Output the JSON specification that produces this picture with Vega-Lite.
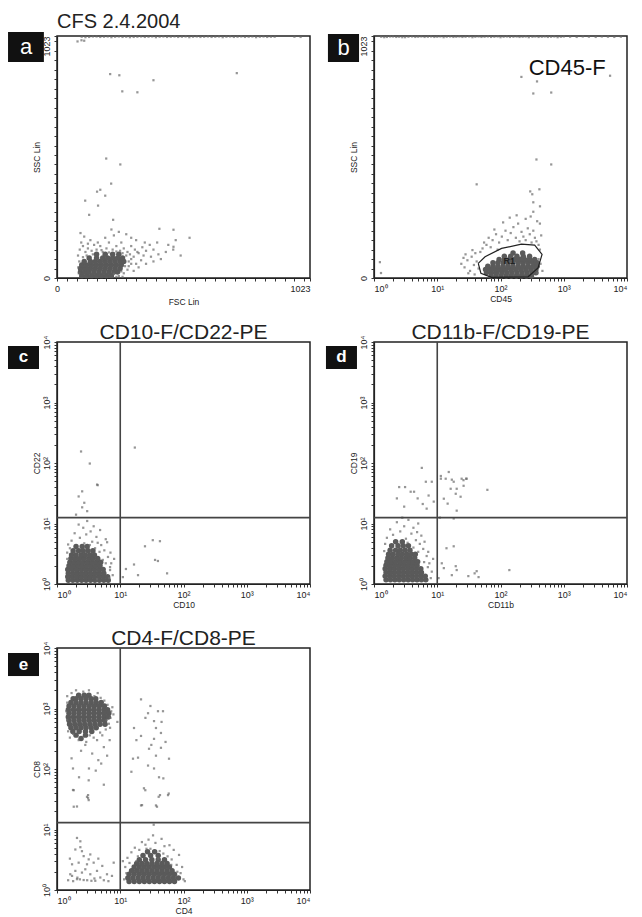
{
"$schema":"https://vega.github.io/schema/vega-lite/v6.json",
"background":"white",
"padding":{"left":7,"top":11,"right":5,"bottom":3},
"config":{
 "view":{"stroke":"#222","strokeWidth":1.5},
 "axis":{"grid":false,"domainColor":"#222","domainWidth":1.2,"tickColor":"#333","tickSize":3,"tickCount":60,"labelColor":"#222","titleColor":"#222","labelFont":"Liberation Sans","titleFont":"Liberation Sans","labelFontSize":9,"titleFontSize":8.5,"titleFontWeight":"normal","labelPadding":3,"titlePadding":1,"labelOverlap":false,"labelBound":false},
 "title":{"font":"Liberation Sans","fontWeight":"normal","color":"#222"}
},
"datasets":{
 "aCore":[{"x":100,"y":10},{"x":120,"y":10},{"x":140,"y":10},{"x":160,"y":10},{"x":180,"y":10},{"x":200,"y":10},{"x":220,"y":10},
  {"x":95,"y":25},{"x":112,"y":25},{"x":130,"y":25},{"x":150,"y":25},{"x":170,"y":25},{"x":190,"y":25},{"x":210,"y":25},{"x":230,"y":25},{"x":245,"y":25},
  {"x":95,"y":40},{"x":115,"y":40},{"x":135,"y":40},{"x":155,"y":40},{"x":175,"y":40},{"x":195,"y":40},{"x":215,"y":40},{"x":235,"y":40},{"x":255,"y":40},
  {"x":100,"y":55},{"x":120,"y":55},{"x":140,"y":55},{"x":160,"y":55},{"x":180,"y":55},{"x":200,"y":55},{"x":220,"y":55},{"x":240,"y":55},{"x":260,"y":55},
  {"x":110,"y":70},{"x":135,"y":70},{"x":155,"y":70},{"x":175,"y":70},{"x":195,"y":70},{"x":215,"y":70},{"x":235,"y":70},{"x":255,"y":70},{"x":270,"y":70},
  {"x":130,"y":85},{"x":160,"y":85},{"x":185,"y":85},{"x":205,"y":85},{"x":225,"y":85},{"x":245,"y":85},{"x":265,"y":85},
  {"x":160,"y":100},{"x":195,"y":100},{"x":225,"y":100},{"x":250,"y":100}],
 "aPts":[{"x":92,"y":120},{"x":105,"y":135},{"x":98,"y":150},{"x":115,"y":110},{"x":125,"y":125},{"x":140,"y":115},{"x":150,"y":140},{"x":135,"y":160},{"x":110,"y":175},{"x":95,"y":190},{"x":160,"y":120},{"x":175,"y":135},{"x":185,"y":110},{"x":200,"y":125},{"x":210,"y":150},{"x":195,"y":170},{"x":225,"y":120},{"x":240,"y":135},{"x":255,"y":115},{"x":270,"y":125},{"x":285,"y":110},{"x":300,"y":135},{"x":315,"y":120},{"x":330,"y":105},{"x":345,"y":130},{"x":360,"y":115},{"x":375,"y":140},{"x":390,"y":120},{"x":405,"y":150},{"x":300,"y":170},{"x":280,"y":185},{"x":250,"y":195},{"x":220,"y":205},{"x":230,"y":180},{"x":320,"y":160},{"x":350,"y":95},{"x":380,"y":90},{"x":410,"y":100},{"x":440,"y":110},{"x":470,"y":120},{"x":500,"y":95},{"x":300,"y":80},{"x":320,"y":60},{"x":340,"y":75},{"x":290,"y":50},{"x":310,"y":30},{"x":330,"y":45},{"x":360,"y":60},{"x":390,"y":70},{"x":420,"y":80},{"x":450,"y":140},{"x":480,"y":160},{"x":414,"y":208},{"x":471,"y":204},{"x":536,"y":170},{"x":471,"y":132},{"x":227,"y":246},{"x":130,"y":267},{"x":166,"y":306},{"x":114,"y":327},{"x":195,"y":348},{"x":162,"y":365},{"x":175,"y":373},{"x":219,"y":399},{"x":256,"y":480},{"x":199,"y":505},{"x":264,"y":789},{"x":325,"y":785},{"x":390,"y":836},{"x":215,"y":862},{"x":252,"y":857},{"x":727,"y":866},{"x":83,"y":1000},{"x":99,"y":1005},{"x":110,"y":1003},{"x":88,"y":20},{"x":86,"y":45},{"x":90,"y":70},{"x":85,"y":95},{"x":270,"y":20},{"x":285,"y":35},{"x":250,"y":8},{"x":265,"y":5},{"x":290,"y":70},{"x":280,"y":95},{"x":295,"y":100},{"x":265,"y":105},{"x":240,"y":112},{"x":210,"y":108},{"x":180,"y":118},{"x":145,"y":100},{"x":120,"y":95},{"x":105,"y":88},{"x":240,"y":5},{"x":230,"y":18},{"x":260,"y":28},{"x":275,"y":50},{"x":300,"y":60},{"x":310,"y":90},{"x":325,"y":110},{"x":355,"y":150},{"x":260,"y":150},{"x":125,"y":145},{"x":165,"y":150},
  {"x":100,"y":1020},{"x":115,"y":1018},{"x":130,"y":1019},{"x":145,"y":1021},{"x":160,"y":1021},{"x":175,"y":1019},{"x":190,"y":1020},{"x":205,"y":1021},{"x":220,"y":1018},{"x":235,"y":1020},{"x":250,"y":1021},{"x":265,"y":1019},{"x":280,"y":1020},{"x":295,"y":1018},{"x":310,"y":1019},{"x":325,"y":1020},{"x":340,"y":1021},{"x":355,"y":1019},{"x":370,"y":1020},{"x":385,"y":1021},{"x":400,"y":1018},{"x":415,"y":1020},{"x":430,"y":1021},{"x":445,"y":1019},{"x":460,"y":1020},{"x":475,"y":1021},{"x":490,"y":1019},{"x":505,"y":1020},{"x":520,"y":1021},{"x":535,"y":1018},{"x":550,"y":1020},{"x":565,"y":1021},{"x":580,"y":1019},{"x":595,"y":1020},{"x":610,"y":1021},{"x":625,"y":1019},{"x":640,"y":1020},{"x":655,"y":1021},{"x":670,"y":1018},{"x":685,"y":1020},{"x":700,"y":1021},{"x":715,"y":1019},{"x":730,"y":1020},{"x":745,"y":1021},{"x":760,"y":1019},{"x":775,"y":1020},{"x":790,"y":1021},{"x":805,"y":1018},{"x":820,"y":1020},{"x":835,"y":1021},{"x":850,"y":1019},{"x":865,"y":1020},{"x":880,"y":1020},{"x":960,"y":1020},{"x":985,"y":1019}],
 "bCore":[{"x":71,"y":8},{"x":85,"y":8},{"x":102,"y":8},{"x":123,"y":8},{"x":148,"y":8},{"x":178,"y":8},{"x":214,"y":8},{"x":257,"y":8},{"x":309,"y":8},
  {"x":60,"y":22},{"x":72,"y":22},{"x":87,"y":22},{"x":105,"y":22},{"x":126,"y":22},{"x":151,"y":22},{"x":182,"y":22},{"x":219,"y":22},{"x":263,"y":22},{"x":316,"y":22},{"x":363,"y":22},
  {"x":58,"y":36},{"x":69,"y":36},{"x":83,"y":36},{"x":100,"y":36},{"x":120,"y":36},{"x":145,"y":36},{"x":174,"y":36},{"x":209,"y":36},{"x":251,"y":36},{"x":302,"y":36},{"x":363,"y":36},
  {"x":63,"y":50},{"x":76,"y":50},{"x":91,"y":50},{"x":110,"y":50},{"x":132,"y":50},{"x":158,"y":50},{"x":191,"y":50},{"x":229,"y":50},{"x":275,"y":50},{"x":331,"y":50},{"x":380,"y":50},
  {"x":76,"y":64},{"x":91,"y":64},{"x":110,"y":64},{"x":132,"y":64},{"x":158,"y":64},{"x":191,"y":64},{"x":229,"y":64},{"x":275,"y":64},{"x":331,"y":64},{"x":380,"y":64},
  {"x":95,"y":78},{"x":115,"y":78},{"x":138,"y":78},{"x":166,"y":78},{"x":200,"y":78},{"x":240,"y":78},{"x":288,"y":78},{"x":347,"y":78},
  {"x":115,"y":92},{"x":145,"y":92},{"x":182,"y":92},{"x":229,"y":92},{"x":288,"y":92},
  {"x":158,"y":106},{"x":224,"y":106}],
 "bPts":[{"x":24,"y":60},{"x":27,"y":45},{"x":30,"y":75},{"x":33,"y":30},{"x":35,"y":90},{"x":38,"y":55},{"x":40,"y":105},{"x":42,"y":70},{"x":45,"y":40},{"x":28,"y":100},{"x":36,"y":118},{"x":31,"y":20},{"x":26,"y":85},{"x":48,"y":110},{"x":52,"y":125},{"x":39,"y":15},
  {"x":55,"y":150},{"x":65,"y":170},{"x":75,"y":160},{"x":85,"y":185},{"x":95,"y":150},{"x":105,"y":175},{"x":120,"y":200},{"x":130,"y":160},{"x":145,"y":190},{"x":160,"y":215},{"x":175,"y":170},{"x":190,"y":230},{"x":200,"y":155},{"x":215,"y":195},{"x":230,"y":175},{"x":250,"y":160},{"x":270,"y":210},{"x":290,"y":185},{"x":310,"y":150},{"x":330,"y":200},{"x":350,"y":170},{"x":370,"y":155},{"x":400,"y":140},{"x":420,"y":120},{"x":440,"y":180},{"x":380,"y":240},{"x":300,"y":260},{"x":250,"y":250},{"x":330,"y":280},{"x":420,"y":230},{"x":80,"y":205},{"x":110,"y":235},{"x":140,"y":255},{"x":180,"y":265},{"x":70,"y":130},{"x":90,"y":120},{"x":60,"y":140},{"x":400,"y":80},{"x":430,"y":60},{"x":460,"y":30},{"x":380,"y":20},
  {"x":42,"y":396},{"x":295,"y":366},{"x":318,"y":354},{"x":412,"y":375},{"x":330,"y":320},{"x":421,"y":303},{"x":370,"y":501},{"x":634,"y":480},{"x":214,"y":850},{"x":378,"y":831},{"x":330,"y":780},{"x":634,"y":784},{"x":5400,"y":855},{"x":1.24,"y":67},{"x":1.29,"y":21},
  {"x":1.3,"y":1020},{"x":1.45,"y":1018},{"x":1.6,"y":1019},{"x":1.8,"y":1021},{"x":2,"y":1021},{"x":2.25,"y":1019},{"x":2.5,"y":1020},{"x":2.8,"y":1018},{"x":3.1,"y":1018},{"x":3.5,"y":1020},{"x":4,"y":1021},{"x":4.5,"y":1019},{"x":5,"y":1020},{"x":5.6,"y":1021},{"x":6.3,"y":1019},{"x":7.1,"y":1020},{"x":8,"y":1021},{"x":9,"y":1019},{"x":10,"y":1020},{"x":11.2,"y":1021},{"x":12.6,"y":1018},{"x":14.1,"y":1020},{"x":16,"y":1021},{"x":18,"y":1019},{"x":20,"y":1020},{"x":22.4,"y":1021},{"x":25,"y":1019},{"x":28,"y":1020},{"x":32,"y":1021},{"x":36,"y":1018},{"x":40,"y":1020},{"x":45,"y":1021},{"x":50,"y":1019},{"x":56,"y":1020},{"x":63,"y":1021},{"x":71,"y":1019},{"x":80,"y":1020},{"x":90,"y":1021},{"x":100,"y":1018},{"x":112,"y":1020},{"x":126,"y":1021},{"x":141,"y":1019},{"x":160,"y":1020},{"x":180,"y":1021},{"x":200,"y":1019},{"x":224,"y":1020},{"x":250,"y":1021},{"x":280,"y":1018},{"x":320,"y":1020},{"x":355,"y":1021},{"x":400,"y":1019},{"x":450,"y":1020},{"x":500,"y":1021},{"x":560,"y":1019},{"x":630,"y":1020},{"x":710,"y":1021},{"x":800,"y":1018},{"x":900,"y":1020},{"x":1000,"y":1021},{"x":1260,"y":1020},{"x":1600,"y":1019},{"x":2000,"y":1021},{"x":2500,"y":1020},{"x":3200,"y":1019},{"x":4000,"y":1021},{"x":5000,"y":1020},{"x":6300,"y":1019},{"x":8000,"y":1020}],
 "bGate":[{"o":1,"x":44.5,"y":62},{"o":2,"x":49,"y":20},{"o":3,"x":72,"y":3},{"o":4,"x":273,"y":5},{"o":5,"x":392,"y":43},{"o":6,"x":454,"y":100},{"o":7,"x":347,"y":139},{"o":8,"x":214,"y":143},{"o":9,"x":104,"y":125},{"o":10,"x":57,"y":90},{"o":11,"x":44.5,"y":62}],
 "cCore":[{"x":1.51,"y":1.15},{"x":1.78,"y":1.15},{"x":2.09,"y":1.15},{"x":2.45,"y":1.15},{"x":2.88,"y":1.15},{"x":3.39,"y":1.15},{"x":3.98,"y":1.15},{"x":4.68,"y":1.15},{"x":5.5,"y":1.15},{"x":6.46,"y":1.15},
  {"x":1.48,"y":1.32},{"x":1.74,"y":1.32},{"x":2.04,"y":1.32},{"x":2.4,"y":1.32},{"x":2.82,"y":1.32},{"x":3.31,"y":1.32},{"x":3.89,"y":1.32},{"x":4.57,"y":1.32},{"x":5.37,"y":1.32},{"x":6.31,"y":1.32},
  {"x":1.51,"y":1.51},{"x":1.78,"y":1.51},{"x":2.09,"y":1.51},{"x":2.45,"y":1.51},{"x":2.88,"y":1.51},{"x":3.39,"y":1.51},{"x":3.98,"y":1.51},{"x":4.68,"y":1.51},{"x":5.5,"y":1.51},
  {"x":1.48,"y":1.74},{"x":1.74,"y":1.74},{"x":2.04,"y":1.74},{"x":2.4,"y":1.74},{"x":2.82,"y":1.74},{"x":3.31,"y":1.74},{"x":3.89,"y":1.74},{"x":4.57,"y":1.74},{"x":5.37,"y":1.74},
  {"x":1.55,"y":2.0},{"x":1.82,"y":2.0},{"x":2.14,"y":2.0},{"x":2.51,"y":2.0},{"x":2.95,"y":2.0},{"x":3.47,"y":2.0},{"x":4.07,"y":2.0},{"x":4.79,"y":2.0},
  {"x":1.6,"y":2.29},{"x":1.88,"y":2.29},{"x":2.2,"y":2.29},{"x":2.6,"y":2.29},{"x":3.05,"y":2.29},{"x":3.6,"y":2.29},{"x":4.2,"y":2.29},{"x":4.9,"y":2.29},
  {"x":1.66,"y":2.63},{"x":1.95,"y":2.63},{"x":2.3,"y":2.63},{"x":2.7,"y":2.63},{"x":3.2,"y":2.63},{"x":3.7,"y":2.63},{"x":4.4,"y":2.63},
  {"x":1.7,"y":3.02},{"x":2.0,"y":3.02},{"x":2.4,"y":3.02},{"x":2.8,"y":3.02},{"x":3.3,"y":3.02},{"x":3.9,"y":3.02},
  {"x":1.8,"y":3.55},{"x":2.2,"y":3.55},{"x":2.6,"y":3.55},{"x":3.1,"y":3.55},{"x":3.7,"y":3.55},
  {"x":2.0,"y":4.17},{"x":2.5,"y":4.17},{"x":3.0,"y":4.17}],
 "cPts":[{"x":1.5,"y":4.5},{"x":1.7,"y":5.2},{"x":2.3,"y":5.8},{"x":2.9,"y":6.6},{"x":3.6,"y":5.0},{"x":4.2,"y":6.0},{"x":5.0,"y":4.4},{"x":5.6,"y":3.6},{"x":6.4,"y":2.8},{"x":7.2,"y":2.2},{"x":7.6,"y":1.4},{"x":6.9,"y":1.7},{"x":3.4,"y":7.4},{"x":2.6,"y":8.5},{"x":4.8,"y":7.8},{"x":1.9,"y":6.9},{"x":5.9,"y":5.5},{"x":2.2,"y":9.6},{"x":3.8,"y":9.0},{"x":1.6,"y":3.9},{"x":7.0,"y":3.3},{"x":6.2,"y":4.9},{"x":4.4,"y":4.8},{"x":2.7,"y":4.7},{"x":5.3,"y":2.5},{"x":6.7,"y":1.25},{"x":3.0,"y":11},{"x":4.3,"y":1.2},{"x":8.0,"y":2.6},{"x":1.45,"y":2.6},{"x":1.45,"y":3.3},{"x":4.0,"y":3.9},{"x":4.7,"y":3.4},{"x":5.9,"y":2.2},{"x":6.9,"y":1.9},{"x":3.3,"y":4.4},
  {"x":4.3,"y":44},{"x":2.5,"y":34},{"x":2.2,"y":28},{"x":2.7,"y":22},{"x":2.5,"y":18.5},{"x":2.4,"y":155},{"x":3.3,"y":98},{"x":4.4,"y":43},{"x":17,"y":180},{"x":2.0,"y":14},{"x":3.0,"y":16},
  {"x":24.6,"y":4.2},{"x":32.7,"y":5.3},{"x":42.4,"y":5.1},{"x":35.5,"y":2.5},{"x":39.4,"y":2.4},{"x":16.5,"y":2.1},{"x":12.3,"y":1.77},{"x":19.1,"y":1.4},{"x":55,"y":1.5},{"x":11,"y":1.3}],
 "cQuad":[{"qx":10,"qy":12.5}],
 "dCore":[{"x":1.55,"y":1.17},{"x":1.82,"y":1.17},{"x":2.14,"y":1.17},{"x":2.51,"y":1.17},{"x":2.95,"y":1.17},{"x":3.47,"y":1.17},{"x":4.07,"y":1.17},{"x":4.79,"y":1.17},{"x":5.62,"y":1.17},{"x":6.6,"y":1.17},
  {"x":1.5,"y":1.35},{"x":1.77,"y":1.35},{"x":2.08,"y":1.35},{"x":2.45,"y":1.35},{"x":2.88,"y":1.35},{"x":3.39,"y":1.35},{"x":3.98,"y":1.35},{"x":4.68,"y":1.35},{"x":5.5,"y":1.35},{"x":6.46,"y":1.35},
  {"x":1.55,"y":1.55},{"x":1.82,"y":1.55},{"x":2.14,"y":1.55},{"x":2.51,"y":1.55},{"x":2.95,"y":1.55},{"x":3.47,"y":1.55},{"x":4.07,"y":1.55},{"x":4.79,"y":1.55},{"x":5.62,"y":1.55},
  {"x":1.5,"y":1.78},{"x":1.77,"y":1.78},{"x":2.08,"y":1.78},{"x":2.45,"y":1.78},{"x":2.88,"y":1.78},{"x":3.39,"y":1.78},{"x":3.98,"y":1.78},{"x":4.68,"y":1.78},{"x":5.5,"y":1.78},
  {"x":1.55,"y":2.04},{"x":1.82,"y":2.04},{"x":2.14,"y":2.04},{"x":2.51,"y":2.04},{"x":2.95,"y":2.04},{"x":3.47,"y":2.04},{"x":4.07,"y":2.04},{"x":4.79,"y":2.04},
  {"x":1.6,"y":2.34},{"x":1.88,"y":2.34},{"x":2.2,"y":2.34},{"x":2.6,"y":2.34},{"x":3.05,"y":2.34},{"x":3.6,"y":2.34},{"x":4.2,"y":2.34},{"x":4.9,"y":2.34},
  {"x":1.66,"y":2.69},{"x":1.95,"y":2.69},{"x":2.3,"y":2.69},{"x":2.7,"y":2.69},{"x":3.2,"y":2.69},{"x":3.7,"y":2.69},{"x":4.4,"y":2.69},
  {"x":1.7,"y":3.09},{"x":2.0,"y":3.09},{"x":2.4,"y":3.09},{"x":2.8,"y":3.09},{"x":3.3,"y":3.09},{"x":3.9,"y":3.09},{"x":4.5,"y":3.09},
  {"x":1.8,"y":3.63},{"x":2.2,"y":3.63},{"x":2.6,"y":3.63},{"x":3.1,"y":3.63},{"x":3.7,"y":3.63},
  {"x":1.9,"y":4.27},{"x":2.4,"y":4.27},{"x":2.9,"y":4.27},{"x":3.5,"y":4.27},
  {"x":2.2,"y":5.0},{"x":2.8,"y":5.0}],
 "dPts":[{"x":1.6,"y":5.8},{"x":2.0,"y":6.5},{"x":2.6,"y":7.4},{"x":3.2,"y":5.6},{"x":3.9,"y":6.8},{"x":4.6,"y":5.3},{"x":5.3,"y":4.6},{"x":6.0,"y":3.8},{"x":6.8,"y":2.9},{"x":7.5,"y":2.2},{"x":8.2,"y":1.6},{"x":7.9,"y":1.25},{"x":3.0,"y":9.0},{"x":2.3,"y":10.5},{"x":4.2,"y":8.5},{"x":1.8,"y":8.0},{"x":5.6,"y":6.3},{"x":3.5,"y":11.5},{"x":2.8,"y":12.5},{"x":6.3,"y":5.0},{"x":4.8,"y":7.2},{"x":7.2,"y":3.4},{"x":1.5,"y":4.6},{"x":8.6,"y":2.6},{"x":5.0,"y":10},{"x":1.45,"y":3.5},{"x":4.2,"y":4.0},{"x":5.0,"y":3.4},{"x":6.2,"y":2.3},{"x":7.1,"y":1.9},{"x":3.4,"y":4.8},
  {"x":5.7,"y":83},{"x":2.5,"y":40},{"x":3.1,"y":40},{"x":2.3,"y":26},{"x":3.0,"y":19},{"x":3.8,"y":33.5},{"x":4.9,"y":26},{"x":5.9,"y":21},{"x":6.8,"y":17.6},{"x":6.6,"y":49},{"x":8.2,"y":49},{"x":8.8,"y":23},{"x":7.3,"y":29},{"x":4.3,"y":33.5},
  {"x":11.4,"y":61},{"x":13.6,"y":55},{"x":15.2,"y":71},{"x":18.2,"y":49},{"x":24.3,"y":55},{"x":29.2,"y":55},{"x":20.3,"y":37.5},{"x":16.3,"y":37.5},{"x":19.6,"y":31},{"x":12.7,"y":25.7},{"x":23.4,"y":27.7},{"x":20.3,"y":16.3},{"x":14.6,"y":21.3},{"x":26.1,"y":42},{"x":62,"y":36},{"x":26,"y":52},{"x":28.6,"y":55},{"x":11.4,"y":55},{"x":17,"y":53},
  {"x":14,"y":3.9},{"x":18.2,"y":4.2},{"x":11.8,"y":2.2},{"x":12.7,"y":1.83},{"x":19.6,"y":1.97},{"x":17,"y":1.4},{"x":31,"y":1.35},{"x":42,"y":1.63},{"x":10.5,"y":1.25},{"x":39,"y":1.5},{"x":138,"y":1.7},{"x":20.3,"y":1.7},{"x":45,"y":1.3},{"x":18.2,"y":12.1},{"x":11,"y":12.5}],
 "dQuad":[{"qx":10,"qy":12.5}],
 "eCore":[{"x":2.2,"y":1660},{"x":2.7,"y":1660},{"x":3.2,"y":1660},
  {"x":1.8,"y":1445},{"x":2.0,"y":1445},{"x":2.4,"y":1445},{"x":2.88,"y":1445},{"x":3.47,"y":1445},{"x":4.1,"y":1445},
  {"x":1.66,"y":1259},{"x":2.0,"y":1259},{"x":2.4,"y":1259},{"x":2.88,"y":1259},{"x":3.47,"y":1259},{"x":4.17,"y":1259},{"x":5.0,"y":1259},
  {"x":1.55,"y":1096},{"x":1.86,"y":1096},{"x":2.24,"y":1096},{"x":2.69,"y":1096},{"x":3.24,"y":1096},{"x":3.89,"y":1096},{"x":4.68,"y":1096},{"x":5.62,"y":1096},
  {"x":1.51,"y":955},{"x":1.82,"y":955},{"x":2.19,"y":955},{"x":2.63,"y":955},{"x":3.16,"y":955},{"x":3.8,"y":955},{"x":4.57,"y":955},{"x":5.5,"y":955},{"x":6.3,"y":955},
  {"x":1.55,"y":832},{"x":1.86,"y":832},{"x":2.24,"y":832},{"x":2.69,"y":832},{"x":3.24,"y":832},{"x":3.89,"y":832},{"x":4.68,"y":832},{"x":5.62,"y":832},{"x":6.6,"y":832},
  {"x":1.51,"y":724},{"x":1.82,"y":724},{"x":2.19,"y":724},{"x":2.63,"y":724},{"x":3.16,"y":724},{"x":3.8,"y":724},{"x":4.57,"y":724},{"x":5.5,"y":724},{"x":6.46,"y":724},
  {"x":1.55,"y":631},{"x":1.86,"y":631},{"x":2.24,"y":631},{"x":2.69,"y":631},{"x":3.24,"y":631},{"x":3.89,"y":631},{"x":4.68,"y":631},{"x":5.62,"y":631},
  {"x":1.58,"y":550},{"x":1.91,"y":550},{"x":2.29,"y":550},{"x":2.75,"y":550},{"x":3.31,"y":550},{"x":3.98,"y":550},{"x":4.79,"y":550},{"x":5.75,"y":550},
  {"x":1.66,"y":479},{"x":2.0,"y":479},{"x":2.4,"y":479},{"x":2.88,"y":479},{"x":3.47,"y":479},{"x":4.17,"y":479},
  {"x":1.78,"y":417},{"x":2.24,"y":417},{"x":2.82,"y":417},{"x":3.55,"y":417},
  {"x":2.0,"y":363},{"x":2.82,"y":363},{"x":2.4,"y":320},
  {"x":13.8,"y":1.38},{"x":16.6,"y":1.38},{"x":20,"y":1.38},{"x":24,"y":1.38},{"x":28.8,"y":1.38},{"x":34.7,"y":1.38},{"x":41.7,"y":1.38},{"x":50,"y":1.38},{"x":60,"y":1.38},{"x":72,"y":1.38},
  {"x":13.2,"y":1.58},{"x":15.8,"y":1.58},{"x":19.1,"y":1.58},{"x":22.9,"y":1.58},{"x":27.5,"y":1.58},{"x":33.1,"y":1.58},{"x":39.8,"y":1.58},{"x":47.9,"y":1.58},{"x":57.5,"y":1.58},{"x":69,"y":1.58},{"x":83,"y":1.58},
  {"x":13.8,"y":1.82},{"x":16.6,"y":1.82},{"x":20,"y":1.82},{"x":24,"y":1.82},{"x":28.8,"y":1.82},{"x":34.7,"y":1.82},{"x":41.7,"y":1.82},{"x":50,"y":1.82},{"x":60,"y":1.82},{"x":72,"y":1.82},
  {"x":15.1,"y":2.09},{"x":18.2,"y":2.09},{"x":21.9,"y":2.09},{"x":26.3,"y":2.09},{"x":31.6,"y":2.09},{"x":38,"y":2.09},{"x":45.7,"y":2.09},{"x":55,"y":2.09},{"x":66,"y":2.09},
  {"x":16.6,"y":2.4},{"x":20,"y":2.4},{"x":24,"y":2.4},{"x":28.8,"y":2.4},{"x":34.7,"y":2.4},{"x":41.7,"y":2.4},{"x":50,"y":2.4},{"x":60,"y":2.4},
  {"x":18.2,"y":2.75},{"x":21.9,"y":2.75},{"x":26.3,"y":2.75},{"x":31.6,"y":2.75},{"x":38,"y":2.75},{"x":45.7,"y":2.75},{"x":55,"y":2.75},
  {"x":20,"y":3.16},{"x":25.1,"y":3.16},{"x":31.6,"y":3.16},{"x":39.8,"y":3.16},{"x":50,"y":3.16},
  {"x":22.9,"y":3.72},{"x":30.2,"y":3.72},{"x":39.8,"y":3.72},{"x":27,"y":4.3},{"x":35,"y":4.3}],
 "ePts":[{"x":1.45,"y":1600},{"x":2.6,"y":1900},{"x":3.9,"y":1600},{"x":5.6,"y":1350},{"x":6.3,"y":1150},{"x":7.2,"y":900},{"x":7.0,"y":700},{"x":6.6,"y":560},{"x":5.9,"y":450},{"x":4.8,"y":400},{"x":3.8,"y":330},{"x":1.5,"y":420},{"x":1.45,"y":650},{"x":1.4,"y":900},{"x":1.45,"y":1250},{"x":2.2,"y":300},{"x":2.9,"y":280},{"x":4.4,"y":1800},{"x":3.2,"y":2000},{"x":5.2,"y":360},{"x":6.9,"y":480},{"x":1.6,"y":330},{"x":7.8,"y":800},{"x":2.0,"y":2000},{"x":1.7,"y":1800},{"x":4.9,"y":1500},{"x":6.1,"y":640},{"x":4.3,"y":300},{"x":3.3,"y":360},{"x":1.8,"y":380},{"x":7.5,"y":1050},
  {"x":1.79,"y":102},{"x":2.23,"y":73},{"x":3.2,"y":102},{"x":4.1,"y":94},{"x":1.79,"y":45},{"x":2.07,"y":24},{"x":3.1,"y":33},{"x":3.1,"y":37},{"x":5.0,"y":123},{"x":6.2,"y":166},{"x":2.4,"y":200},{"x":3.6,"y":180},{"x":1.7,"y":150},{"x":5.5,"y":230},{"x":4.5,"y":140},{"x":2.8,"y":250},{"x":1.84,"y":44.6},{"x":3.17,"y":65},{"x":2.98,"y":34.7},{"x":3.17,"y":30.6},{"x":1.84,"y":23.8},{"x":6.8,"y":300},{"x":5.5,"y":55},{"x":9,"y":600},
  {"x":21.3,"y":1416},{"x":27.5,"y":836},{"x":39.5,"y":902},{"x":47.4,"y":902},{"x":34.2,"y":619},{"x":36.7,"y":476},{"x":16.5,"y":476},{"x":44,"y":394},{"x":21.3,"y":352},{"x":34.2,"y":315},{"x":28.5,"y":216},{"x":44,"y":224},{"x":15.9,"y":148},{"x":19.1,"y":154},{"x":36.7,"y":166},{"x":59,"y":148},{"x":27.5,"y":114},{"x":34.2,"y":102},{"x":23.7,"y":48},{"x":42.5,"y":37},{"x":56.9,"y":37},{"x":21.3,"y":25},{"x":36.7,"y":25},{"x":41,"y":73},{"x":24.9,"y":44.6},{"x":40.5,"y":34.7},{"x":58.4,"y":39.3},{"x":22.1,"y":25.3},{"x":38.1,"y":23.8},{"x":33.8,"y":12},{"x":30,"y":1100},{"x":25,"y":700},{"x":45,"y":600},{"x":18,"y":300},{"x":52,"y":280},{"x":31,"y":250},{"x":15,"y":90},{"x":48,"y":70},
  {"x":2.07,"y":7.25},{"x":2.34,"y":6.38},{"x":1.95,"y":4.67},{"x":2.64,"y":3.63},{"x":3.36,"y":3.87},{"x":1.73,"y":2.66},{"x":2.2,"y":2.83},{"x":2.98,"y":2.66},{"x":3.8,"y":2.83},{"x":1.95,"y":2.07},{"x":2.48,"y":1.94},{"x":3.36,"y":1.82},{"x":4.29,"y":2.07},{"x":2.07,"y":1.51},{"x":2.64,"y":1.46},{"x":3.5,"y":1.42},{"x":4.84,"y":1.61},{"x":6.17,"y":1.82},{"x":1.73,"y":1.71},{"x":2.8,"y":2.2},{"x":1.62,"y":1.82},{"x":4.03,"y":1.42},{"x":7.4,"y":1.71},{"x":7.88,"y":2.83},{"x":3.17,"y":3.21},{"x":2.48,"y":4.38},{"x":2.34,"y":5.1},{"x":1.5,"y":1.45},{"x":1.8,"y":1.4},{"x":2.3,"y":1.5},{"x":3.0,"y":1.45},{"x":3.9,"y":1.55},{"x":5.5,"y":1.45},{"x":6.5,"y":1.4},{"x":5.2,"y":2.5},{"x":4.5,"y":3.3},{"x":1.6,"y":3.3},{"x":2.1,"y":1.6},
  {"x":11.5,"y":1.5},{"x":12,"y":2.4},{"x":13,"y":3.4},{"x":15,"y":4.2},{"x":17,"y":5.0},{"x":20,"y":4.6},{"x":25,"y":5.6},{"x":30,"y":4.8},{"x":36,"y":6.0},{"x":42,"y":4.4},{"x":50,"y":5.3},{"x":56,"y":3.6},{"x":65,"y":3.2},{"x":78,"y":2.6},{"x":90,"y":1.9},{"x":100,"y":1.5},{"x":95,"y":2.4},{"x":85,"y":3.8},{"x":70,"y":4.6},{"x":28,"y":6.8},{"x":22,"y":6.2},{"x":45,"y":7.0},{"x":60,"y":5.5},{"x":12.5,"y":1.9},{"x":33,"y":8.0},{"x":11,"y":3.0},{"x":105,"y":1.4},{"x":40,"y":3.3},{"x":18,"y":3.0},{"x":14,"y":2.8},{"x":48,"y":4.0},{"x":64,"y":2.6},{"x":80,"y":2.0},{"x":19,"y":3.6},{"x":26,"y":4.8}],
 "eQuad":[{"qx":10,"qy":13}]
},
"concat":[
 {"width":253,"height":242,"data":{"values":[{"p":"a"}]},
  "title":{"text":"CFS 2.4.2004","anchor":"start","frame":"group","fontSize":20,"offset":0},
  "layer":[
   {"data":{"name":"aCore"},"mark":{"type":"circle","size":30,"color":"#5a5a5a","opacity":1},
    "encoding":{"x":{"field":"x","type":"quantitative","scale":{"domain":[0,1023],"nice":false,"zero":false},"axis":{"title":"FSC Lin","tickCount":60,"values":[0,40,80,120,160,200,240,280,320,360,400,440,480,520,560,600,640,680,720,760,800,840,880,920,960,1000,1023],"labelExpr":"datum.value==0?'0':datum.value>1010?'1023':''","labelAlign":{"condition":{"test":"datum.value > 1010","value":"right"},"value":"center"},"titlePadding":4}},
     "y":{"field":"y","type":"quantitative","scale":{"domain":[0,1023],"nice":false,"zero":false},"axis":{"title":"SSC Lin","tickCount":60,"values":[0,40,80,120,160,200,240,280,320,360,400,440,480,520,560,600,640,680,720,760,800,840,880,920,960,1000,1023],"labelExpr":"datum.value==0?'0':datum.value>1010?'1023':''","labelAngle":270,"labelAlign":{"condition":{"test":"datum.value > 1010","value":"right"},"value":"center"}}}}},
   {"data":{"name":"aPts"},"mark":{"type":"square","size":5,"color":"#6a6a6a"},"encoding":{"x":{"field":"x","type":"quantitative"},"y":{"field":"y","type":"quantitative"}}},
   {"mark":{"type":"rect","color":"#111"},"encoding":{"x":{"datum":-198},"x2":{"datum":-53},"y":{"datum":1040},"y2":{"datum":913}}},
   {"mark":{"type":"text","color":"white","fontSize":22,"font":"Liberation Sans","baseline":"middle"},"encoding":{"x":{"datum":-125},"y":{"datum":978},"text":{"field":"p"}}}
  ]},
 {"width":253,"height":242,"data":{"values":[{"p":"b"}]},
  "layer":[
   {"data":{"name":"bCore"},"mark":{"type":"circle","size":30,"color":"#5a5a5a","opacity":1},
    "encoding":{"x":{"field":"x","type":"quantitative","scale":{"type":"log","domain":[1,10000],"nice":false},"axis":{"title":"CD45","tickCount":60,"values":[1,2,3,4,5,6,7,8,9,10,20,30,40,50,60,70,80,90,100,200,300,400,500,600,700,800,900,1000,2000,3000,4000,5000,6000,7000,8000,9000,10000],"labelExpr":"datum.value==1?'10⁰':datum.value==10?'10¹':datum.value==100?'10²':datum.value==1000?'10³':datum.value==10000?'10⁴':''"}},
     "y":{"field":"y","type":"quantitative","scale":{"domain":[0,1023],"nice":false,"zero":false},"axis":{"title":"SSC Lin","tickCount":60,"values":[0,40,80,120,160,200,240,280,320,360,400,440,480,520,560,600,640,680,720,760,800,840,880,920,960,1000,1023],"labelExpr":"datum.value==0?'0':datum.value>1010?'1023':''","labelAngle":270,"labelAlign":{"condition":{"test":"datum.value > 1010","value":"right"},"value":"center"}}}}},
   {"data":{"name":"bPts"},"mark":{"type":"square","size":5,"color":"#6a6a6a"},"encoding":{"x":{"field":"x","type":"quantitative"},"y":{"field":"y","type":"quantitative"}}},
   {"data":{"name":"bGate"},"mark":{"type":"line","color":"#222","strokeWidth":1.2},"encoding":{"x":{"field":"x","type":"quantitative"},"y":{"field":"y","type":"quantitative"},"order":{"field":"o","type":"quantitative"}}},
   {"mark":{"type":"text","color":"#222","fontSize":9,"fontWeight":"bold","font":"Liberation Sans","baseline":"middle"},"encoding":{"x":{"datum":138},"y":{"datum":72},"text":{"value":"R1"}}},
   {"mark":{"type":"text","color":"#111","fontSize":22,"font":"Liberation Sans","baseline":"middle"},"encoding":{"x":{"datum":1135},"y":{"datum":888},"text":{"value":"CD45-F"}}},
   {"mark":{"type":"rect","color":"#111"},"encoding":{"x":{"datum":0.187},"x2":{"datum":0.58},"y":{"datum":1031},"y2":{"datum":913}}},
   {"mark":{"type":"text","color":"white","fontSize":22,"font":"Liberation Sans","baseline":"middle"},"encoding":{"x":{"datum":0.33},"y":{"datum":972},"text":{"field":"p"}}}
  ]},
 {"width":253,"height":242,"data":{"values":[{"p":"c"}]},
  "title":{"text":"CD10-F/CD22-PE","anchor":"middle","frame":"group","fontSize":21,"offset":-8},
  "layer":[
   {"data":{"name":"cCore"},"mark":{"type":"circle","size":30,"color":"#5a5a5a","opacity":1},
    "encoding":{"x":{"field":"x","type":"quantitative","scale":{"type":"log","domain":[1,10000],"nice":false},"axis":{"title":"CD10","tickCount":60,"values":[1,2,3,4,5,6,7,8,9,10,20,30,40,50,60,70,80,90,100,200,300,400,500,600,700,800,900,1000,2000,3000,4000,5000,6000,7000,8000,9000,10000],"labelExpr":"datum.value==1?'10⁰':datum.value==10?'10¹':datum.value==100?'10²':datum.value==1000?'10³':datum.value==10000?'10⁴':''"}},
     "y":{"field":"y","type":"quantitative","scale":{"type":"log","domain":[1,10000],"nice":false},"axis":{"title":"CD22","tickCount":60,"values":[1,2,3,4,5,6,7,8,9,10,20,30,40,50,60,70,80,90,100,200,300,400,500,600,700,800,900,1000,2000,3000,4000,5000,6000,7000,8000,9000,10000],"labelExpr":"datum.value==1?'10⁰':datum.value==10?'10¹':datum.value==100?'10²':datum.value==1000?'10³':datum.value==10000?'10⁴':''","labelAngle":270}}}},
   {"data":{"name":"cPts"},"mark":{"type":"square","size":5,"color":"#6a6a6a"},"encoding":{"x":{"field":"x","type":"quantitative"},"y":{"field":"y","type":"quantitative"}}},
   {"data":{"name":"cQuad"},"mark":{"type":"rule","color":"#444","strokeWidth":1.6},"encoding":{"x":{"field":"qx","type":"quantitative"}}},
   {"data":{"name":"cQuad"},"mark":{"type":"rule","color":"#444","strokeWidth":1.6},"encoding":{"y":{"field":"qy","type":"quantitative"}}},
   {"mark":{"type":"rect","color":"#111"},"encoding":{"x":{"datum":0.168},"x2":{"datum":0.519},"y":{"datum":8590},"y2":{"datum":3580}}},
   {"mark":{"type":"text","color":"white","fontSize":17,"fontWeight":"bold","font":"Liberation Sans","baseline":"middle"},"encoding":{"x":{"datum":0.295},"y":{"datum":5545},"text":{"field":"p"}}}
  ]},
 {"width":253,"height":242,"data":{"values":[{"p":"d"}]},
  "title":{"text":"CD11b-F/CD19-PE","anchor":"middle","frame":"group","fontSize":21,"offset":-8},
  "layer":[
   {"data":{"name":"dCore"},"mark":{"type":"circle","size":30,"color":"#5a5a5a","opacity":1},
    "encoding":{"x":{"field":"x","type":"quantitative","scale":{"type":"log","domain":[1,10000],"nice":false},"axis":{"title":"CD11b","tickCount":60,"values":[1,2,3,4,5,6,7,8,9,10,20,30,40,50,60,70,80,90,100,200,300,400,500,600,700,800,900,1000,2000,3000,4000,5000,6000,7000,8000,9000,10000],"labelExpr":"datum.value==1?'10⁰':datum.value==10?'10¹':datum.value==100?'10²':datum.value==1000?'10³':datum.value==10000?'10⁴':''"}},
     "y":{"field":"y","type":"quantitative","scale":{"type":"log","domain":[1,10000],"nice":false},"axis":{"title":"CD19","tickCount":60,"values":[1,2,3,4,5,6,7,8,9,10,20,30,40,50,60,70,80,90,100,200,300,400,500,600,700,800,900,1000,2000,3000,4000,5000,6000,7000,8000,9000,10000],"labelExpr":"datum.value==1?'10⁰':datum.value==10?'10¹':datum.value==100?'10²':datum.value==1000?'10³':datum.value==10000?'10⁴':''","labelAngle":270}}}},
   {"data":{"name":"dPts"},"mark":{"type":"square","size":5,"color":"#6a6a6a"},"encoding":{"x":{"field":"x","type":"quantitative"},"y":{"field":"y","type":"quantitative"}}},
   {"data":{"name":"dQuad"},"mark":{"type":"rule","color":"#444","strokeWidth":1.6},"encoding":{"x":{"field":"qx","type":"quantitative"}}},
   {"data":{"name":"dQuad"},"mark":{"type":"rule","color":"#444","strokeWidth":1.6},"encoding":{"y":{"field":"qy","type":"quantitative"}}},
   {"mark":{"type":"rect","color":"#111"},"encoding":{"x":{"datum":0.174},"x2":{"datum":0.538},"y":{"datum":8590},"y2":{"datum":3580}}},
   {"mark":{"type":"text","color":"white","fontSize":17,"fontWeight":"bold","font":"Liberation Sans","baseline":"middle"},"encoding":{"x":{"datum":0.306},"y":{"datum":5545},"text":{"field":"p"}}}
  ]},
 {"width":253,"height":242,"data":{"values":[{"p":"e"}]},
  "title":{"text":"CD4-F/CD8-PE","anchor":"middle","frame":"group","fontSize":21,"offset":-8},
  "layer":[
   {"data":{"name":"eCore"},"mark":{"type":"circle","size":30,"color":"#5a5a5a","opacity":1},
    "encoding":{"x":{"field":"x","type":"quantitative","scale":{"type":"log","domain":[1,10000],"nice":false},"axis":{"title":"CD4","tickCount":60,"values":[1,2,3,4,5,6,7,8,9,10,20,30,40,50,60,70,80,90,100,200,300,400,500,600,700,800,900,1000,2000,3000,4000,5000,6000,7000,8000,9000,10000],"labelExpr":"datum.value==1?'10⁰':datum.value==10?'10¹':datum.value==100?'10²':datum.value==1000?'10³':datum.value==10000?'10⁴':''"}},
     "y":{"field":"y","type":"quantitative","scale":{"type":"log","domain":[1,10000],"nice":false},"axis":{"title":"CD8","tickCount":60,"values":[1,2,3,4,5,6,7,8,9,10,20,30,40,50,60,70,80,90,100,200,300,400,500,600,700,800,900,1000,2000,3000,4000,5000,6000,7000,8000,9000,10000],"labelExpr":"datum.value==1?'10⁰':datum.value==10?'10¹':datum.value==100?'10²':datum.value==1000?'10³':datum.value==10000?'10⁴':''","labelAngle":270}}}},
   {"data":{"name":"ePts"},"mark":{"type":"square","size":5,"color":"#6a6a6a"},"encoding":{"x":{"field":"x","type":"quantitative"},"y":{"field":"y","type":"quantitative"}}},
   {"data":{"name":"eQuad"},"mark":{"type":"rule","color":"#444","strokeWidth":1.6},"encoding":{"x":{"field":"qx","type":"quantitative"}}},
   {"data":{"name":"eQuad"},"mark":{"type":"rule","color":"#444","strokeWidth":1.6},"encoding":{"y":{"field":"qy","type":"quantitative"}}},
   {"mark":{"type":"rect","color":"#111"},"encoding":{"x":{"datum":0.168},"x2":{"datum":0.519},"y":{"datum":8260},"y2":{"datum":3440}}},
   {"mark":{"type":"text","color":"white","fontSize":17,"fontWeight":"bold","font":"Liberation Sans","baseline":"middle"},"encoding":{"x":{"datum":0.295},"y":{"datum":5330},"text":{"field":"p"}}}
  ]}
],
"columns":2,
"spacing":64,
"bounds":"flush"
}
